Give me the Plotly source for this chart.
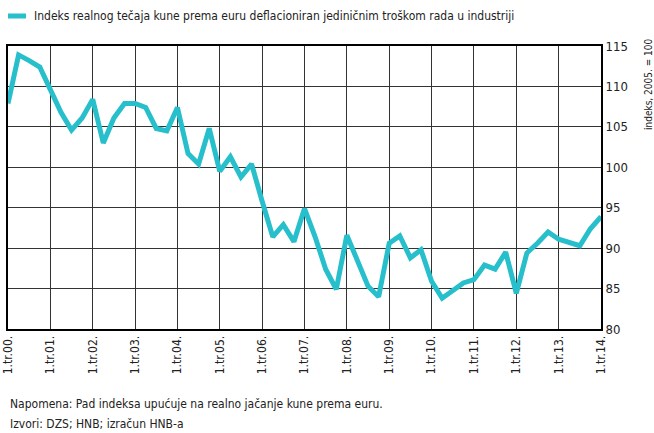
import plotly.graph_objects as go

years = [f"1.tr.{y:02d}." for y in range(0, 15)]
quarters = list(range(57))
values = [107.9, 113.9, 113.2, 112.4, 109.6, 106.8, 104.6, 106.1, 108.4, 103.0,
          106.1, 107.9, 107.9, 107.4, 104.8, 104.5, 107.4, 101.7, 100.4, 104.8,
          99.5, 101.3, 98.8, 100.4, 95.8, 91.4, 92.9, 90.8, 94.9, 91.4,
          87.4, 84.9, 91.6, 88.3, 85.3, 84.0, 90.6, 91.5, 88.8, 89.8,
          85.9, 83.8, 84.8, 85.7, 86.1, 87.9, 87.4, 89.5, 84.4, 89.4,
          90.6, 92.0, 91.1, 90.7, 90.3, 92.4, 93.9]
year_ticks = list(range(0, 57, 4))
y_ticks = [80, 85, 90, 95, 100, 105, 110, 115]

series_name = "Indeks realnog tečaja kune prema euru deflacioniran jediničnim troškom rada u industriji"
teal = "#27BFCB"
font_family = "Liberation Sans Narrow, DejaVu Sans Condensed, Roboto, sans-serif"

PW, PH = 593, 283  # plot area size in px

fig = go.Figure()
fig.add_trace(go.Scatter(x=quarters, y=values, mode="lines", name=series_name,
                         line=dict(color=teal, width=5), showlegend=False,
                         hoverinfo="skip"))

fig.update_layout(
    width=654, height=433,
    margin=dict(l=8, r=53, t=46, b=104, autoexpand=False),
    paper_bgcolor="white", plot_bgcolor="white",
    font=dict(family=font_family, size=12, color="#222"),
    xaxis=dict(range=[0, 56], tickvals=year_ticks, ticktext=years, tickangle=-90,
               showgrid=True, gridcolor="#333", gridwidth=1, automargin=False,
               showline=True, linecolor="black", linewidth=2, mirror=True,
               zeroline=False, ticks="", tickfont=dict(size=12)),
    yaxis=dict(range=[80, 115], tickvals=y_ticks, side="right",
               showgrid=True, gridcolor="#333", gridwidth=1, automargin=False,
               showline=True, linecolor="black", linewidth=2, mirror=True,
               zeroline=False, ticks="", tickfont=dict(size=13)),
)

fig.add_shape(type="line", xref="paper", yref="paper",
              x0=0.0, x1=18/PW, y0=1 + 30/PH, y1=1 + 30/PH,
              line=dict(color=teal, width=5))
fig.add_annotation(text=series_name, xref="paper", yref="paper",
                   x=24/PW, y=1 + 30/PH, xanchor="left", yanchor="middle",
                   showarrow=False, font=dict(size=12, color="#222"))
fig.add_annotation(text="indeks, 2005. = 100", xref="paper", yref="paper",
                   x=(648 - 8)/PW, y=1 + 10/PH, xanchor="center", yanchor="top",
                   textangle=-90, showarrow=False, font=dict(size=10, color="#222"))
fig.add_annotation(text="Napomena: Pad indeksa upućuje na realno jačanje kune prema euru.",
                   xref="paper", yref="paper", x=0, y=-(404 - 329) / PH,
                   xanchor="left", yanchor="middle", showarrow=False,
                   font=dict(size=12, color="#222"))
fig.add_annotation(text="Izvori: DZS; HNB; izračun HNB-a",
                   xref="paper", yref="paper", x=0, y=-(424 - 329) / PH,
                   xanchor="left", yanchor="middle", showarrow=False,
                   font=dict(size=12, color="#222"))

fig.write_html("out.html", config={"displayModeBar": False},
               post_script="document.body.style.margin='0';")
